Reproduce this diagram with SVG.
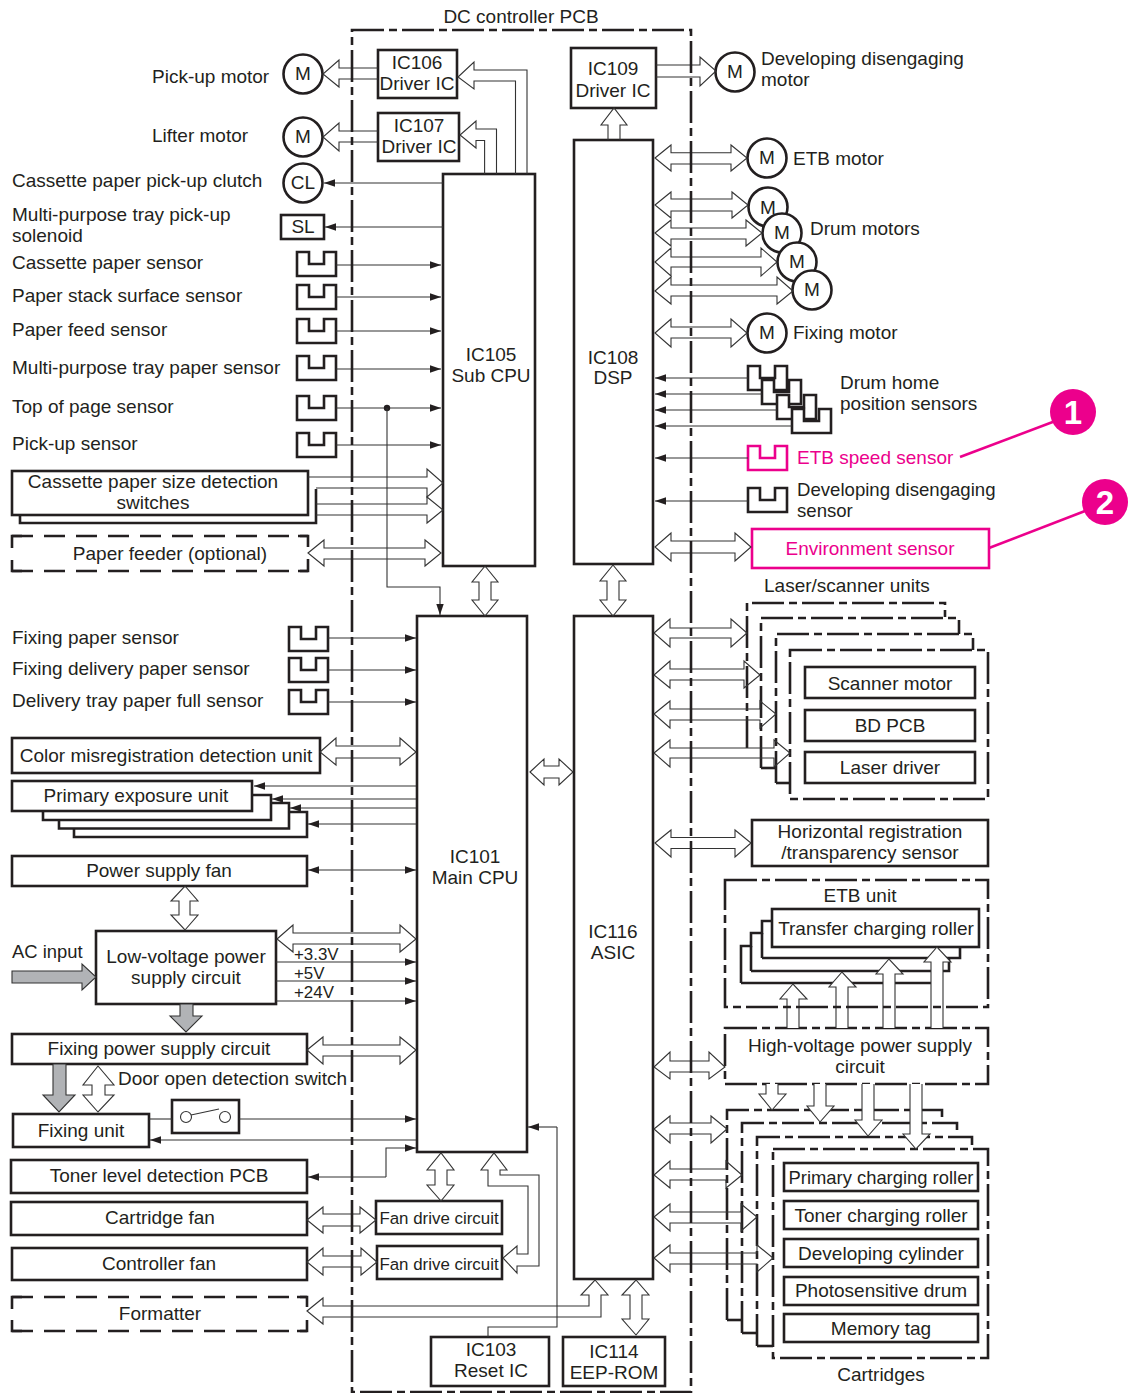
<svg xmlns="http://www.w3.org/2000/svg" width="1136" height="1393" viewBox="0 0 1136 1393">
<style>
text{font-family:"Liberation Sans",Arial,sans-serif;font-size:19px;fill:#231f20}
.m{text-anchor:middle}
.b{fill:#fff;stroke:#231f20;stroke-width:2.6}
.n{fill:none;stroke:#231f20;stroke-width:2.6}
.dd{fill:none;stroke:#231f20;stroke-width:2.6;stroke-dasharray:32 5 8 5}
.d{fill:none;stroke:#231f20;stroke-width:2.6;stroke-dasharray:21 11}
.pk{fill:#fff;stroke:#ec008c;stroke-width:2.6}
.pt{fill:#ec008c}
.l{fill:none;stroke:#333;stroke-width:1.1}
.la{fill:none;stroke:#333;stroke-width:1.1;marker-end:url(#a)}
.a{fill:none;stroke:#333;stroke-width:1.1;stroke-linejoin:miter}
.w{fill:#fff;stroke:#333;stroke-width:1.1}
.g{fill:#b1b3b6;stroke:#333;stroke-width:1.1}
.s{font-size:16.9px}
.t{font-size:18.4px}
.u{font-size:18.6px}
.bd{font-size:33px;font-weight:bold;fill:#fff}
</style>
<defs>
<marker id="a" markerUnits="userSpaceOnUse" markerWidth="12" markerHeight="8" refX="11" refY="4" orient="auto"><path d="M0 .3L11 4L0 7.7Z" fill="#231f20"/></marker>
<marker id="s" markerUnits="userSpaceOnUse" markerWidth="12" markerHeight="8" refX="0" refY="4" orient="auto"><path d="M11 .3L0 4L11 7.7Z" fill="#231f20"/></marker>
<path id="sn" d="M0 0H12V12H27V0H39V24H0Z"/>
</defs>

<g id="labels">
<text class="m" x="521" y="23">DC controller PCB</text>
<text x="152" y="83">Pick-up motor</text>
<text x="152" y="142">Lifter motor</text>
<text x="12" y="187">Cassette paper pick-up clutch</text>
<text x="12" y="221">Multi-purpose tray pick-up</text>
<text x="12" y="242">solenoid</text>
<text x="12" y="269">Cassette paper sensor</text>
<text x="12" y="302">Paper stack surface sensor</text>
<text x="12" y="336">Paper feed sensor</text>
<text x="12" y="374">Multi-purpose tray paper sensor</text>
<text x="12" y="413">Top of page sensor</text>
<text x="12" y="450">Pick-up sensor</text>
<text x="12" y="644">Fixing paper sensor</text>
<text x="12" y="675">Fixing delivery paper sensor</text>
<text x="12" y="707">Delivery tray paper full sensor</text>
<text x="761" y="65">Developing disengaging</text>
<text x="761" y="86">motor</text>
<text x="793" y="165">ETB motor</text>
<text x="810" y="235">Drum motors</text>
<text x="793" y="339">Fixing motor</text>
<text x="840" y="389">Drum home</text>
<text x="840" y="410">position sensors</text>
<text class="u" x="797" y="496">Developing disengaging</text>
<text class="u" x="797" y="517">sensor</text>
<text x="764" y="592">Laser/scanner units</text>
<text class="m" x="860" y="902">ETB unit</text>
<text class="m" x="881" y="1381">Cartridges</text>
<text class="t" x="12" y="958">AC input</text>
<text x="118" y="1085">Door open detection switch</text>
<text class="s" x="294" y="960">+3.3V</text>
<text class="s" x="294" y="979">+5V</text>
<text class="s" x="294" y="998">+24V</text>
</g>

<g id="ic106"><rect class="b" x="378" y="50" width="79" height="48"/><text class="m" x="417" y="69">IC106</text><text class="m" x="417" y="90">Driver IC</text></g>
<g id="ic107"><rect class="b" x="378" y="113" width="81" height="48"/><text class="m" x="419" y="132">IC107</text><text class="m" x="419" y="153">Driver IC</text></g>
<g id="ic109"><rect class="b" x="571" y="48" width="85" height="60"/><text class="m" x="613" y="75">IC109</text><text class="m" x="613" y="97">Driver IC</text></g>
<g id="ic105"><rect class="b" x="443" y="174" width="92" height="392"/><text class="m" x="491" y="361">IC105</text><text class="m" x="491" y="382">Sub CPU</text></g>
<g id="ic108"><rect class="b" x="574" y="140" width="79" height="424"/><text class="m" x="613" y="364">IC108</text><text class="m" x="613" y="384">DSP</text></g>
<g id="ic101"><rect class="b" x="417" y="616" width="110" height="536"/><text class="m" x="475" y="863">IC101</text><text class="m" x="475" y="884">Main CPU</text></g>
<g id="ic116"><rect class="b" x="574" y="616" width="79" height="663"/><text class="m" x="613" y="938">IC116</text><text class="m" x="613" y="959">ASIC</text></g>
<g id="ic103"><rect class="b" x="431" y="1337" width="118" height="49"/><text class="m" x="491" y="1356">IC103</text><text class="m" x="491" y="1377">Reset IC</text></g>
<g id="ic114"><rect class="b" x="563" y="1337" width="102" height="49"/><text class="m" x="614" y="1358">IC114</text><text class="m" x="614" y="1379">EEP-ROM</text></g>

<g id="motor-pickup"><circle class="b" cx="303" cy="74" r="19.5"/><text class="m" x="303" y="80">M</text></g>
<g id="motor-lifter"><circle class="b" cx="303" cy="137" r="19.5"/><text class="m" x="303" y="143">M</text></g>
<g id="clutch"><circle class="b" cx="303" cy="183" r="19.5"/><text class="m" x="303" y="189">CL</text></g>
<g id="solenoid"><rect class="b" x="281" y="215" width="43" height="24"/><text class="m" x="303" y="233">SL</text></g>
<g id="motor-dev"><circle class="b" cx="735" cy="72" r="19.5"/><text class="m" x="735" y="78">M</text></g>
<g id="motor-etb"><circle class="b" cx="767" cy="158" r="19.5"/><text class="m" x="767" y="164">M</text></g>
<g id="drum-motors">
<circle class="b" cx="768" cy="207" r="19.5"/><text class="m" x="768" y="214">M</text>
<circle class="b" cx="782" cy="233" r="19.5"/><text class="m" x="782" y="239">M</text>
<circle class="b" cx="797" cy="262" r="19.5"/><text class="m" x="797" y="268">M</text>
<circle class="b" cx="812" cy="290" r="19.5"/><text class="m" x="812" y="296">M</text>
</g>
<g id="motor-fixing"><circle class="b" cx="767" cy="333" r="19.5"/><text class="m" x="767" y="339">M</text></g>

<g id="left-sensors" class="b">
<use href="#sn" x="297" y="252"/><use href="#sn" x="297" y="285"/><use href="#sn" x="297" y="319"/><use href="#sn" x="297" y="356"/><use href="#sn" x="297" y="396"/><use href="#sn" x="297" y="433"/>
<use href="#sn" x="289" y="627"/><use href="#sn" x="289" y="658"/><use href="#sn" x="289" y="690"/>
</g>
<g id="drum-home-sensors" class="b">
<use href="#sn" x="748" y="366"/><use href="#sn" x="762" y="380"/><use href="#sn" x="777" y="395"/><use href="#sn" x="792" y="409"/>
</g>
<g id="etb-speed-sensor"><use href="#sn" class="pk" x="748" y="446"/><text class="pt" x="797" y="464">ETB speed sensor</text></g>
<g id="dev-sensor" class="b"><use href="#sn" x="748" y="488"/></g>
<g id="environment-sensor"><rect class="pk" x="752" y="529" width="237" height="39"/><text class="m pt" x="870" y="555">Environment sensor</text></g>
<g id="badge-1"><path d="M960 457L1058 420" fill="none" stroke="#ec008c" stroke-width="2.6"/><circle cx="1073" cy="412" r="23" fill="#ec008c"/><text class="m bd" x="1073" y="424">1</text></g>
<g id="badge-2"><path d="M989 548L1085 511" fill="none" stroke="#ec008c" stroke-width="2.6"/><circle cx="1105" cy="502" r="23" fill="#ec008c"/><text class="m bd" x="1105" y="514">2</text></g>

<g id="cassette-switches"><path class="n" d="M20 515V523H316V489"/><rect class="b" x="12" y="471" width="296" height="44"/><text class="m" x="153" y="488">Cassette paper size detection</text><text class="m" x="153" y="509">switches</text></g>
<g id="paper-feeder"><path class="d" d="M12 536H308M12 571H308"/><path class="n" d="M12 548V536H22M12 560V571H22M308 547V536H298M308 559V571H298"/><text class="m" x="170" y="560">Paper feeder (optional)</text></g>
<g id="color-misreg"><rect class="b" x="12" y="738" width="308" height="35"/><text class="m" x="166" y="762">Color misregistration detection unit</text></g>
<g id="primary-exposure"><path class="n" d="M74 828V837H307V812H289M59 820V828.500H289V803H271M43 811V820H271V795H252"/><rect class="b" x="12" y="781" width="240" height="30"/><text class="m" x="136" y="802">Primary exposure unit</text></g>
<g id="power-fan"><rect class="b" x="12" y="856" width="295" height="30"/><text class="m" x="159" y="877">Power supply fan</text></g>
<g id="lv-power"><rect class="b" x="96" y="931" width="180" height="73"/><text class="m" x="186" y="963">Low-voltage power</text><text class="m" x="186" y="984">supply circuit</text></g>
<g id="fixing-power"><rect class="b" x="12" y="1034" width="295" height="30"/><text class="m" x="159" y="1055">Fixing power supply circuit</text></g>
<g id="fixing-unit"><rect class="b" x="13" y="1114" width="136" height="33"/><text class="m" x="81" y="1137">Fixing unit</text></g>
<g id="door-switch"><rect class="b" x="172" y="1100" width="67" height="33"/><circle cx="186" cy="1117" r="5.500" fill="#fff" stroke="#333" stroke-width="1.1"/><circle cx="225" cy="1117" r="5.500" fill="#fff" stroke="#333" stroke-width="1.1"/><path class="l" d="M191 1115L219 1109"/></g>
<g id="toner-pcb"><rect class="b" x="11" y="1160" width="296" height="33"/><text class="m" x="159" y="1182">Toner level detection PCB</text></g>
<g id="cartridge-fan"><rect class="b" x="11" y="1202" width="296" height="33"/><text class="m" x="160" y="1224">Cartridge fan</text></g>
<g id="controller-fan"><rect class="b" x="12" y="1248" width="295" height="32"/><text class="m" x="159" y="1270">Controller fan</text></g>
<g id="formatter"><path class="d" d="M12 1297H307M12 1331H307"/><path class="n" d="M12 1309V1297H22M12 1320V1331H22M307 1307V1297H297M307 1320V1331H297"/><text class="m" x="160" y="1320">Formatter</text></g>
<g id="fan-drive-1"><rect class="b" x="376" y="1201" width="126" height="33"/><text class="m s" x="439" y="1224">Fan drive circuit</text></g>
<g id="fan-drive-2"><rect class="b" x="377" y="1246" width="125" height="33"/><text class="m s" x="439" y="1270">Fan drive circuit</text></g>

<g id="laser-units">
<path class="dd" d="M747 748V603H945V617"/>
<path class="dd" d="M761 768V618H959V634"/>
<path class="n" d="M761 768H775"/>
<path class="dd" d="M776 783V634H973V650"/>
<path class="n" d="M776 783H790"/>
<path class="dd" d="M790 650H988V799H790Z"/>
<rect class="b" x="805" y="667" width="170" height="31"/><text class="m" x="890" y="690">Scanner motor</text>
<rect class="b" x="805" y="710" width="170" height="31"/><text class="m" x="890" y="732">BD PCB</text>
<rect class="b" x="805" y="752" width="170" height="31"/><text class="m" x="890" y="774">Laser driver</text>
</g>
<g id="h-reg"><rect class="b" x="752" y="820" width="236" height="46"/><text class="m" x="870" y="838">Horizontal registration</text><text class="m" x="870" y="859">/transparency sensor</text></g>
<g id="etb-stack">
<path class="n" d="M741 983V946H751V933H762V921H772M741 983H938M751 971H949V958M762 958H960V947"/>
<path class="n" d="M751 946V971M762 933V958"/>
<rect class="b" x="772" y="909" width="207" height="38"/><text class="m" x="876" y="935">Transfer charging roller</text>
</g>
<g id="hv-power"><rect class="dd" x="725" y="1028" width="263" height="56"/><text class="m" x="860" y="1052">High-voltage power supply</text><text class="m" x="860" y="1073">circuit</text></g>
<g id="cartridges">
<path class="dd" d="M727 1320V1110H942V1121"/><path class="n" d="M727 1320H742"/>
<path class="dd" d="M742 1333V1123H957V1135"/><path class="n" d="M742 1333H757"/>
<path class="dd" d="M757 1346V1137H972V1149"/><path class="n" d="M757 1346H773"/>
<path class="dd" d="M773 1149H988V1358H773Z"/>
<rect class="b" x="784" y="1163" width="194" height="28"/><text class="m t" x="881" y="1184">Primary charging roller</text>
<rect class="b" x="784" y="1201" width="194" height="28"/><text class="m" x="881" y="1222">Toner charging roller</text>
<rect class="b" x="784" y="1239" width="194" height="28"/><text class="m" x="881" y="1260">Developing cylinder</text>
<rect class="b" x="784" y="1277" width="194" height="28"/><text class="m" x="881" y="1297">Photosensitive drum</text>
<rect class="b" x="784" y="1314" width="194" height="28"/><text class="m" x="881" y="1335">Memory tag</text>
</g>

<g id="connectors">
<path class="a" d="M378 68H339V60L323 74L339 87V79H378"/>
<path class="a" d="M378 131H339V123L323 137L339 151V142H378"/>
<path class="a" d="M527 174V70H474V62L458 77L474 89V81H515.500V174"/>
<path class="a" d="M496.500 174V129H476V121L460 135L476 148V140.500H484.600V174"/>
<path class="la" d="M443 183H324"/>
<path class="la" d="M443 227H325"/>
<path class="a" d="M656 65H700V57L716 71L700 86V77H656"/>
<path class="a" d="M608 140V125H601L614 108L627 125H620V140"/>
<path class="la" d="M336 265H441"/><path class="la" d="M336 297H441"/><path class="la" d="M336 331H441"/><path class="la" d="M336 369H441"/><path class="la" d="M336 408H441"/><path class="la" d="M336 445H441"/>
<circle cx="387" cy="408" r="3.200" fill="#231f20"/>
<path class="la" d="M387 408V587H440V615"/>
<path class="a" d="M308 477H427V469L443 483L427 497V488H316"/>
<path class="a" d="M316 504H427V497L443 510L427 523V515H316"/>
<path class="a" d="M308 553L324 540V548H425V540L441 553L425 566V559H324V566Z"/>
<path class="a" d="M479 582H472L485 566L498 582H491V600H498L485 616L472 600H479Z"/>
<path class="a" d="M607 581H600L613 565L626 581H619V600H626L613 616L600 600H607Z"/>
<path class="a" d="M655 158L671 145V152.700H731V145L747 158L731 171V164H671V171Z"/>
<path class="a" d="M655 205L671 192V199H732V192L748 205L732 218V211H671V218Z"/>
<path class="a" d="M655 233L671 220V228H746V220L762 233L746 246V239H671V246Z"/>
<path class="a" d="M655 262L671 248V257H761V248L777 262L761 276V267H671V276Z"/>
<path class="a" d="M655 291L671 277V285H777V277L793 291L777 304V296H671V304Z"/>
<path class="a" d="M655 333L671 319V327H731V319L747 333L731 347V338H671V347Z"/>
<path class="la" d="M748 378H655"/><path class="la" d="M762 394H655"/><path class="la" d="M777 410H655"/><path class="la" d="M792 426H655"/>
<path class="la" d="M748 458H655"/><path class="la" d="M748 501H655"/>
<path class="a" d="M655 547L671 533V541H735V533L751 547L735 561V553H671V561Z"/>
<path class="a" d="M654 633L670 619V628H731V619L747 633L731 647V638H670V647Z"/>
<path class="a" d="M654 675L670 661V669H744V661L760 675L744 688V680H670V688Z"/>
<path class="a" d="M654 714L670 701V709H760V701L776 714L760 728V720H670V728Z"/>
<path class="a" d="M654 753L670 740V748H774V740L790 753L774 767V758H670V767Z"/>
<path class="a" d="M655 843L671 830V837.500H735V830L751 843L735 857V848.500H671V857Z"/>
<path class="a" d="M530 772L544 759V766H559V759L573 772L559 785V778H544V785Z"/>
<path class="la" d="M328 638H416"/><path class="la" d="M328 670H416"/><path class="la" d="M328 702H416"/>
<path class="a" d="M320 752L336 738V746H400V738L416 752L400 765V758H336V765Z"/>
<path class="la" d="M416 786H254"/><path class="la" d="M416 799H272"/><path class="la" d="M416 808H290"/><path class="la" d="M416 824H308"/>
<path class="l" d="M308 870H416" marker-start="url(#s)" marker-end="url(#a)"/>
<path class="a" d="M179 901H171L185 886L198 901H190V915H198L185 930L171 915H179Z"/>
<path class="a" d="M277 939L293 925V933H400V925L416 939L400 952V944H293V952Z"/>
<path class="g" d="M12 971H82V964L96 977L82 990V983H12Z"/>
<path class="la" d="M276 962H416"/><path class="la" d="M276 981H416"/><path class="la" d="M276 1001H416"/>
<path class="g" d="M180 1004H193V1016H202L186 1032L170 1016H180Z"/>
<path class="g" d="M53 1064H66V1095H75L59 1112L43 1095H53Z"/>
<path class="a" d="M92 1085H83L98 1066L114 1085H105V1095H114L98 1112L83 1095H92Z"/>
<path class="a" d="M307 1050L323 1037V1045H400V1037L416 1050L400 1064V1056H323V1064Z"/>
<path class="l" d="M149 1119H172"/><path class="la" d="M239 1119H416"/>
<path class="la" d="M416 1140H150"/>
<path class="l" d="M386 1177V1148H416" marker-end="url(#a)"/>
<path class="la" d="M386 1177H308"/>
<path class="a" d="M307 1220L323 1207V1214H360V1207L376 1220L360 1233V1226H323V1233Z"/>
<path class="a" d="M307 1262L323 1248V1256H361V1248L377 1262L361 1275V1267H323V1275Z"/>
<path class="a" d="M435 1170H427L441 1153L454 1170H447V1185H454L441 1201L427 1185H435Z"/>
<path class="a" d="M488 1170H481L494 1153L507 1170H500V1175H539V1266H517V1273L503 1258L517 1246V1254H528V1186H488Z"/>
<path class="a" d="M307 1311L323 1298V1306H589V1295H581L595 1280L608 1295H601V1317H323V1324Z"/>
<path class="a" d="M630 1295H622L636 1280L649 1295H642V1319H649L636 1335L622 1319H630Z"/>
<path class="l" d="M488 1337V1327H557V1127"/><path class="la" d="M557 1127H528"/>
<path class="a" d="M654 1067L670 1052V1061H709V1052L725 1067L709 1079V1072H670V1079Z"/>
<path class="a" d="M654 1129L670 1116V1123H711V1116L727 1129L711 1143V1134H670V1143Z"/>
<path class="a" d="M654 1175L670 1161V1169H726V1161L742 1175L726 1188V1180H670V1188Z"/>
<path class="a" d="M654 1217L670 1204V1212H741V1204L757 1217L741 1231V1223H670V1231Z"/>
<path class="a" d="M654 1258L670 1245V1253H757V1245L773 1258L757 1272V1264H670V1272Z"/>
<path class="w" d="M787 1028V999H780L793 984L807 999H799V1028"/>
<path class="w" d="M836 1028V987H829L842 972L856 987H848V1028"/>
<path class="w" d="M883 1028V974H876L889 959L903 974H895V1028"/>
<path class="w" d="M931 1028V962H924L937 947L951 962H943V1028"/>
<path class="w" d="M766 1084V1094H759L772 1110L786 1094H778V1084"/>
<path class="w" d="M814 1084V1106H807L820 1122L834 1106H826V1084"/>
<path class="w" d="M862 1084V1120H855L868 1136L882 1120H874V1084"/>
<path class="w" d="M910 1084V1134H903L916 1149L930 1134H922V1084"/>
</g>

<g id="etb-frame"><rect class="dd" x="725" y="880" width="263" height="127"/></g>
<g id="pcb-frame"><rect class="dd" x="352" y="30" width="339" height="1362"/></g>
</svg>
